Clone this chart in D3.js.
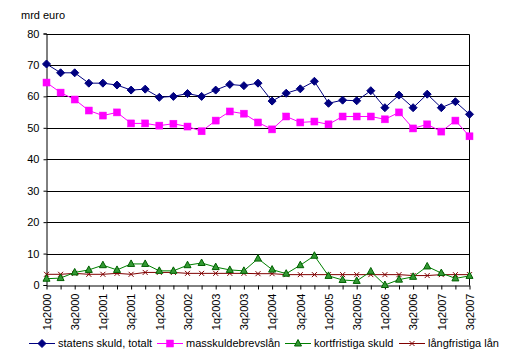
<!DOCTYPE html>
<html><head><meta charset="utf-8">
<script src="https://cdn.jsdelivr.net/npm/d3@7"></script>
<style>body{margin:0;background:#fff}svg{display:block;font-family:Arial,"Liberation Sans",sans-serif}</style>
</head><body><svg id="c" width="508" height="364"></svg>
<script>
const categories = ["1q2000","2q2000","3q2000","4q2000","1q2001","2q2001","3q2001","4q2001","1q2002","2q2002","3q2002","4q2002","1q2003","2q2003","3q2003","4q2003","1q2004","2q2004","3q2004","4q2004","1q2005","2q2005","3q2005","4q2005","1q2006","2q2006","3q2006","4q2006","1q2007","2q2007","3q2007"];
const statensSkuld = [70.3,67.5,67.5,64.2,64.2,63.6,62.0,62.3,59.7,60.0,60.9,60.0,62.0,63.8,63.4,64.2,58.5,61.0,62.4,64.8,57.8,58.8,58.6,61.8,56.4,60.4,56.4,60.7,56.4,58.3,54.3];
const masskuldebrevslan = [64.4,61.2,59.0,55.5,53.9,54.9,51.4,51.4,50.7,51.3,50.4,48.9,52.3,55.2,54.5,51.7,49.5,53.6,51.7,52.0,51.1,53.6,53.6,53.6,52.7,54.9,49.8,51.1,48.8,52.3,47.3];
const kortfristigaSkuld = [2.0,2.2,4.0,4.8,6.3,4.8,6.7,6.7,4.5,4.5,6.3,7.0,5.7,4.8,4.5,8.4,4.9,3.6,6.3,9.3,2.9,1.6,1.3,4.3,0.0,1.7,2.6,5.9,3.8,2.1,2.9];
const langfristigaLan = [3.4,3.4,3.7,3.4,3.4,3.7,3.4,4.0,4.0,4.0,3.7,3.7,3.7,3.7,3.7,3.6,3.6,3.3,3.3,3.3,3.3,3.3,3.3,3.3,3.3,3.3,3.0,3.0,3.3,3.3,3.3];
const yTicks = [0,10,20,30,40,50,60,70,80];
const xTickLabels = categories.filter((d,i)=>i%2===0);

const series = [
  {name:"statens skuld, totalt", values:statensSkuld, color:"#000080", marker:"diamond", mfill:"#000080"},
  {name:"masskuldebrevslån", values:masskuldebrevslan, color:"#FF00FF", marker:"square", mfill:"#FF00FF"},
  {name:"kortfristiga skuld", values:kortfristigaSkuld, color:"#008000", marker:"triangle", mfill:"#339933"},
  {name:"långfristiga lån", values:langfristigaLan, color:"#800000", marker:"x", mfill:"none"}
];

const svg = d3.select("#c");
const L=46.5, R=469.5, T=33.5, B=285;
const x = d3.scalePoint().domain(categories).range([L,R]);
const y = d3.scaleLinear().domain([0,80]).range([B,T]);

// gridlines
svg.append("g").selectAll("line").data(yTicks.filter(d=>d>0)).join("line")
  .attr("x1",L).attr("x2",R).attr("y1",d=>Math.round(y(d))+0.5).attr("y2",d=>Math.round(y(d))+0.5)
  .attr("stroke","#000").attr("stroke-width",1);
// right border
svg.append("line").attr("x1",R).attr("x2",R).attr("y1",Math.round(y(80))+0.5).attr("y2",Math.round(y(0))+0.5).attr("stroke","#000");

// y axis
const yAxis = svg.append("g").attr("transform",`translate(${L},0)`)
  .call(d3.axisLeft(y).tickValues(yTicks).tickSize(3).tickPadding(4).tickFormat(d3.format("d")));
yAxis.selectAll("text").attr("font-size",11).attr("fill","#000").style("font-family","Arial, 'Liberation Sans', sans-serif");
yAxis.selectAll("line,path").attr("stroke","#000");

// x axis
const xAxis = svg.append("g").attr("transform",`translate(0,${Math.round(y(0))+0.5})`)
  .call(d3.axisBottom(x).tickSize(4).tickSizeOuter(0).tickFormat(d=>xTickLabels.includes(d)?d:""));
xAxis.select("path").attr("stroke","#000");
xAxis.selectAll("line").attr("stroke","#000");
xAxis.selectAll("text").attr("font-size",11).attr("fill","#000")
  .style("font-family","Arial, 'Liberation Sans', sans-serif")
  .attr("transform","rotate(-90)").attr("text-anchor","end")
  .attr("x",-8).attr("y",0).attr("dy","0.35em");

// title
svg.append("text").attr("x",21).attr("y",19).attr("font-size",11).text("mrd euro");

function drawMarker(g, type, cx, cy, s){
  if(type==="diamond"){
    g.append("path").attr("d",`M${cx},${cy-4}L${cx+4},${cy}L${cx},${cy+4}L${cx-4},${cy}Z`).attr("fill",s.mfill).attr("stroke",s.color);
  } else if(type==="square"){
    g.append("rect").attr("x",cx-3.5).attr("y",cy-3.5).attr("width",7).attr("height",7).attr("fill",s.mfill).attr("stroke",s.color).attr("stroke-width",0.5);
  } else if(type==="triangle"){
    g.append("path").attr("d",`M${cx},${cy-4}L${cx+3.5},${cy+2.5}L${cx-3.5},${cy+2.5}Z`).attr("fill",s.mfill).attr("stroke","#006000").attr("stroke-width",1);
  } else if(type==="x"){
    g.append("path").attr("d",`M${cx-2.5},${cy-2.5}L${cx+2.5},${cy+2.5}M${cx-2.5},${cy+2.5}L${cx+2.5},${cy-2.5}`).attr("stroke",s.color).attr("stroke-width",1);
  }
}

const line = d3.line().x((d,i)=>x(categories[i])).y(d=>y(d));
series.slice().reverse().forEach(s=>{
  const g = svg.append("g");
  g.append("path").attr("d",line(s.values)).attr("fill","none").attr("stroke",s.color).attr("stroke-width",1);
  s.values.forEach((v,i)=>drawMarker(g,s.marker,x(categories[i]),y(v),s));
});

// legend
const legX = [29,157,285,399];
const ly = 343;
series.forEach((s,i)=>{
  const g = svg.append("g");
  g.append("line").attr("x1",legX[i]).attr("x2",legX[i]+26).attr("y1",ly+0.5).attr("y2",ly+0.5).attr("stroke",s.color);
  drawMarker(g,s.marker,legX[i]+13,ly+0.5,s);
  g.append("text").attr("x",legX[i]+29).attr("y",ly).attr("dy","0.35em").attr("font-size",11).text(s.name);
});
</script></body></html>
